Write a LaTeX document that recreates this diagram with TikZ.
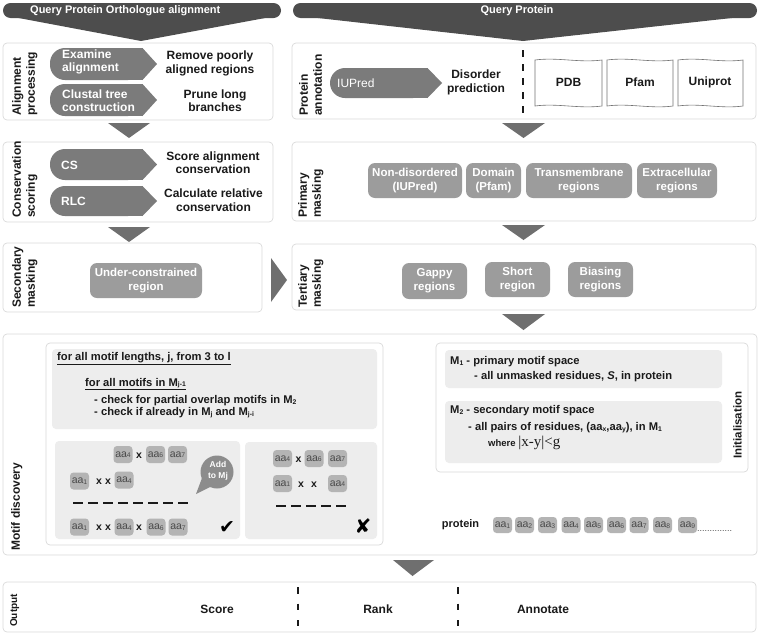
\documentclass[tikz,border=0pt]{standalone}
\usepackage{fontspec}
\setmainfont{Liberation Sans}
\newfontfamily\serifx{Liberation Serif}
\newfontfamily\symx{DejaVu Sans}
\newcommand\sbx[1]{\raisebox{-0.1ex}{\fontsize{6.8}{7}\selectfont #1}}
\newcommand\fs[2]{\fontsize{#1}{#2}\selectfont}
\definecolor{hdr}{HTML}{4D4D4D}
\definecolor{trifill}{HTML}{6F6F6F}
\definecolor{chevfill}{HTML}{7B7B7B}
\definecolor{maskfill}{HTML}{9C9C9C}
\definecolor{pborder}{HTML}{DADADA}
\definecolor{lgray}{HTML}{EDEDED}
\definecolor{aafill}{HTML}{B4B4B4}
\definecolor{aatext}{HTML}{4A4A4A}
\definecolor{bubblefill}{HTML}{8C8C8C}
\definecolor{txt}{HTML}{1A1A1A}
\newcommand\chevshape[4]{%
  \fill[chevfill,rounded corners=15pt] (#1,#2) rectangle ({#3-14},#4);
  \fill[chevfill] ({#1+20},#2) rectangle ({#3-14},#4);
  \fill[chevfill] ({#3-14.5},#2) -- (#3,{(#2+#4)/2}) -- ({#3-14.5},#4) -- cycle;}
\newcommand\docshape[4]{%
  \draw[docline] (#1,#2) .. controls ({#1+(#3-#1)/3},{#2-3}) and ({#1+2*(#3-#1)/3},{#2+3}) .. (#3,#2)
    -- (#3,#4) .. controls ({#3-(#3-#1)/3},{#4+3}) and ({#3-2*(#3-#1)/3},{#4-3}) .. (#1,#4) -- cycle;}
\tikzset{
  panel/.style={draw=pborder, fill=white, rounded corners=4pt, line width=0.7pt},
  gbox/.style={fill=lgray, rounded corners=4pt},
  trif/.style={fill=trifill},
  lab/.style={rotate=90, anchor=north west, align=left, inner sep=0pt, text=txt, font=\bfseries\fs{12}{14}},
  body/.style={align=center, inner sep=0pt, text=txt, font=\bfseries\fs{12}{13.5}},
  chevtext/.style={anchor=west, align=left, inner sep=0pt, text=white, font=\bfseries\fs{12}{13.5}},
  maskbox/.style={fill=maskfill, rounded corners=7pt, text=white, align=center, inner sep=0pt, font=\bfseries\fs{11.5}{14}},
  aa/.style={fill=aafill, rounded corners=3.5pt, minimum width=19pt, minimum height=17pt, inner sep=0pt, text=aatext, font=\fs{10.5}{12}},
  xm/.style={inner sep=0pt, font=\bfseries\fs{10.5}{12}, text=txt},
  mtext/.style={anchor=west, inner sep=0pt, text=txt, font=\bfseries\fs{11.2}{13}},
  dashrow/.style={line width=2pt, dash pattern=on 10pt off 5pt, draw=txt},
  vdash/.style={line width=1.6pt, draw=txt},
  docline/.style={draw=black!55, fill=white, line width=0.6pt},
}
\begin{document}
\begin{tikzpicture}[x=1pt,y=-1pt]
\useasboundingbox (0,0) rectangle (760,635);
% headers
\fill[hdr, rounded corners=7.5pt] (3,3) rectangle (281,18);
\fill[hdr] (8,16) -- (276,16) -- (141,41) -- cycle;
\node[anchor=west, inner sep=0pt, text=white, font=\bfseries\fs{11}{13}] (h1) at (30,10.5) {Query Protein Orthologue alignment};
\fill[hdr, rounded corners=7.5pt] (293,3) rectangle (757,18);
\fill[hdr] (300,16) -- (750,16) -- (523,41) -- cycle;
\node[inner sep=0pt, text=white, font=\bfseries\fs{11}{13}] (h2) at (517,10.5) {Query Protein};
% panels
\draw[panel] (3,43) rectangle (273,120);
\draw[panel] (3,142) rectangle (273,222);
\draw[panel] (3,243) rectangle (262,312);
\draw[panel] (292,43) rectangle (756,119);
\draw[panel] (292,142) rectangle (756,221);
\draw[panel] (292,244) rectangle (756,310);
\draw[panel] (3,334) rectangle (757,555);
\draw[panel] (3,582) rectangle (756,632);
% side labels
\node[lab] (lap) at (12,116) {Alignment\\processing};
\node[lab] (lcs) at (12,218) {Conservation\\scoring};
\node[lab] (lsm) at (12,308) {Secondary\\masking};
\node[lab] (lpa) at (299,116) {Protein\\annotation};
\node[lab] (lpm) at (298,218) {Primary\\masking};
\node[lab] (ltm) at (298,308) {Tertiary\\masking};
\node[lab] (lmd) at (11,551) {Motif discovery};
\node[lab, font=\bfseries\fs{10}{12}] (lout) at (10,627) {Output};
% alignment processing
\chevshape{50}{48}{157}{80}
\chevshape{50}{84}{157}{116}
\node[chevtext] (ex) at (62,62) {Examine\\alignment};
\node[chevtext] (cl) at (62,100.5) {Clustal tree\\construction};
\node[body] (rm) at (210,63.5) {Remove poorly\\aligned regions};
\node[body] (pr) at (215,100.5) {Prune long\\branches};
% conservation scoring
\chevshape{50}{149}{157}{180}
\chevshape{50}{186}{157}{216}
\node[chevtext] (cs) at (61,165.5) {CS};
\node[chevtext] (rlc) at (61,201.5) {RLC};
\node[body] (sa) at (213,162.5) {Score alignment\\conservation};
\node[body] (cr) at (213.5,200) {Calculate relative\\conservation};
% secondary masking
\node[maskbox, minimum width=112pt, minimum height=35pt] (uc) at (146,280.5) {Under-constrained\\region};
% protein annotation
\chevshape{330}{68}{442}{98}
\node[chevtext, font=\fs{12}{13.5}] (iu) at (337,83) {IUPred};
\node[body] (dp) at (476,82.5) {Disorder\\prediction};
\draw[vdash, dash pattern=on 7pt off 7pt] (523,50) -- (523,116);
\docshape{535}{60}{602}{106}
\docshape{607}{60}{673}{106}
\docshape{678}{60}{743}{106}
\node[body] (pdb) at (568.5,82.5) {PDB};
\node[body] (pfam) at (640,82.5) {Pfam};
\node[body] (uni) at (710,82.5) {Uniprot};
% primary masking
\node[maskbox, minimum width=94pt, minimum height=35pt] (nd) at (415,180.5) {Non-disordered\\(IUPred)};
\node[maskbox, minimum width=55pt, minimum height=35pt] (dom) at (493.5,180.5) {Domain\\(Pfam)};
\node[maskbox, minimum width=106pt, minimum height=35pt] (tm) at (579,180.5) {Transmembrane\\regions};
\node[maskbox, minimum width=80pt, minimum height=35pt] (ec) at (677,180.5) {Extracellular\\regions};
% tertiary masking
\node[maskbox, minimum width=65pt, minimum height=36pt] (gap) at (434.5,281) {Gappy\\regions};
\node[maskbox, minimum width=65pt, minimum height=35pt] (sh) at (517.5,279.5) {Short\\region};
\node[maskbox, minimum width=65pt, minimum height=35pt] (bi) at (600.5,279.5) {Biasing\\regions};
% flow triangles
\fill[trif] (108,123) -- (150,123) -- (129,138) -- cycle;
\fill[trif] (108,227) -- (150,227) -- (129,242) -- cycle;
\fill[trif] (502,123) -- (545,123) -- (523.5,138) -- cycle;
\fill[trif] (502,225) -- (545,225) -- (523.5,240) -- cycle;
\fill[trif] (502,314) -- (545,314) -- (523.5,330) -- cycle;
\fill[trif] (271,258) -- (287,280) -- (271,302) -- cycle;
\fill[trif] (393,560) -- (434,560) -- (412.5,576) -- cycle;
% motif discovery: loop box
\draw[panel] (46,343) rectangle (383,545);
\fill[gbox] (52,349) rectangle (377,429);
\node[mtext] (l1) at (57,359) {\underline{for all motif lengths, j, from 3 to l}};
\node[mtext] (l2) at (85,384) {\underline{for all motifs in M\sbx{j-1}}};
\node[mtext] (l3) at (94,401) {- check for partial overlap motifs in M\sbx{2}};
\node[mtext] (l4) at (94,413) {- check if already in M\sbx{j} and M\sbx{j-i}};
\fill[gbox] (55,441) rectangle (240,539);
\fill[gbox] (245,442) rectangle (377,539);
% left example
\node[aa] (a1r1) at (123,454.5) {aa\sbx{4}};
\node[xm] (x1r1) at (139,455.5) {x};
\node[aa] (a2r1) at (155.5,454.5) {aa\sbx{6}};
\node[aa] (a3r1) at (177.5,454.5) {aa\sbx{7}};
\node[aa] (a1r2) at (79.5,481) {aa\sbx{1}};
\node[xm] (x1r2) at (99,482) {x};
\node[xm] (x2r2) at (108,482) {x};
\node[aa] (a2r2) at (124,480) {aa\sbx{4}};
\draw[dashrow] (73,503) -- (188,503);
\node[aa] (a1r3) at (79.5,527) {aa\sbx{1}};
\node[xm] (x1r3) at (99,528) {x};
\node[xm] (x2r3) at (108,528) {x};
\node[aa] (a2r3) at (124,527) {aa\sbx{4}};
\node[xm] (x3r3) at (139,528) {x};
\node[aa] (a3r3) at (156,527) {aa\sbx{6}};
\node[aa] (a4r3) at (178,527) {aa\sbx{7}};
\fill[bubblefill] (217,472) circle (16.5pt);
\fill[bubblefill] (202,478) -- (196,494) -- (212,486) -- cycle;
\node[inner sep=0pt, align=center, text=white, font=\bfseries\fs{8.5}{10.5}] (add) at (218,471) {Add\\to Mj};
\node[inner sep=0pt, text=black, font=\symx\fs{19}{19}] (ok) at (227,527) {✔};
% right example
\node[aa] (b1r1) at (282.5,458.5) {aa\sbx{4}};
\node[xm] (y1r1) at (298.5,459.5) {x};
\node[aa] (b2r1) at (314,458.5) {aa\sbx{6}};
\node[aa] (b3r1) at (337.5,458.5) {aa\sbx{7}};
\node[aa] (b1r2) at (282.5,483.5) {aa\sbx{1}};
\node[xm] (y1r2) at (301,485) {x};
\node[xm] (y2r2) at (314,485) {x};
\node[aa] (b2r2) at (337.5,483.5) {aa\sbx{4}};
\draw[dashrow] (276,506) -- (346,506);
\node[inner sep=0pt, text=black, font=\symx\fs{20}{20}] (no) at (363,526) {✘};
% initialisation
\draw[panel] (436,343) rectangle (748,472);
\fill[gbox] (445,350) rectangle (722,388);
\fill[gbox] (445,401) rectangle (722,463);
\node[mtext] (m1) at (450,362) {M\sbx{1} - primary motif space};
\node[mtext] (m1b) at (474,377) {- all unmasked residues, \textit{S}, in protein};
\node[mtext] (m2) at (450,411) {M\sbx{2} - secondary motif space};
\node[mtext] (m2b) at (468,428) {- all pairs of residues, (aa\sbx{x},aa\sbx{y}), in M\sbx{1}};
\node[mtext, font=\bfseries\fs{9.5}{11}] (m2c) at (488,443) {where {\serifx\mdseries\fs{15}{15}|x-y|<g}};
\node[lab, font=\bfseries\fs{11.5}{13}] (init) at (733,459) {Initialisation};
% protein row
\node[body, font=\bfseries\fs{11}{13}] (prot) at (460.5,525) {protein};
\foreach \i/\xx in {1/502.5,2/524.5,3/547.5,4/571,5/593.5,6/616.5,7/639,8/662.5,9/687.5}
  \node[aa, minimum height=16pt] (p\i) at (\xx,525) {aa\sbx{\i}};
\node[anchor=base west, inner sep=0pt, text=aatext, font=\fs{9}{9}] (dots) at (697,531) {..............};
% output
\node[body] (score) at (217,609) {Score};
\draw[vdash, dash pattern=on 6.5pt off 10pt] (298,587) -- (298,626);
\node[body] (rank) at (378,609) {Rank};
\draw[vdash, dash pattern=on 6.5pt off 10pt] (458,587) -- (458,626);
\node[body] (ann) at (543,609) {Annotate};
\end{tikzpicture}
\end{document}
